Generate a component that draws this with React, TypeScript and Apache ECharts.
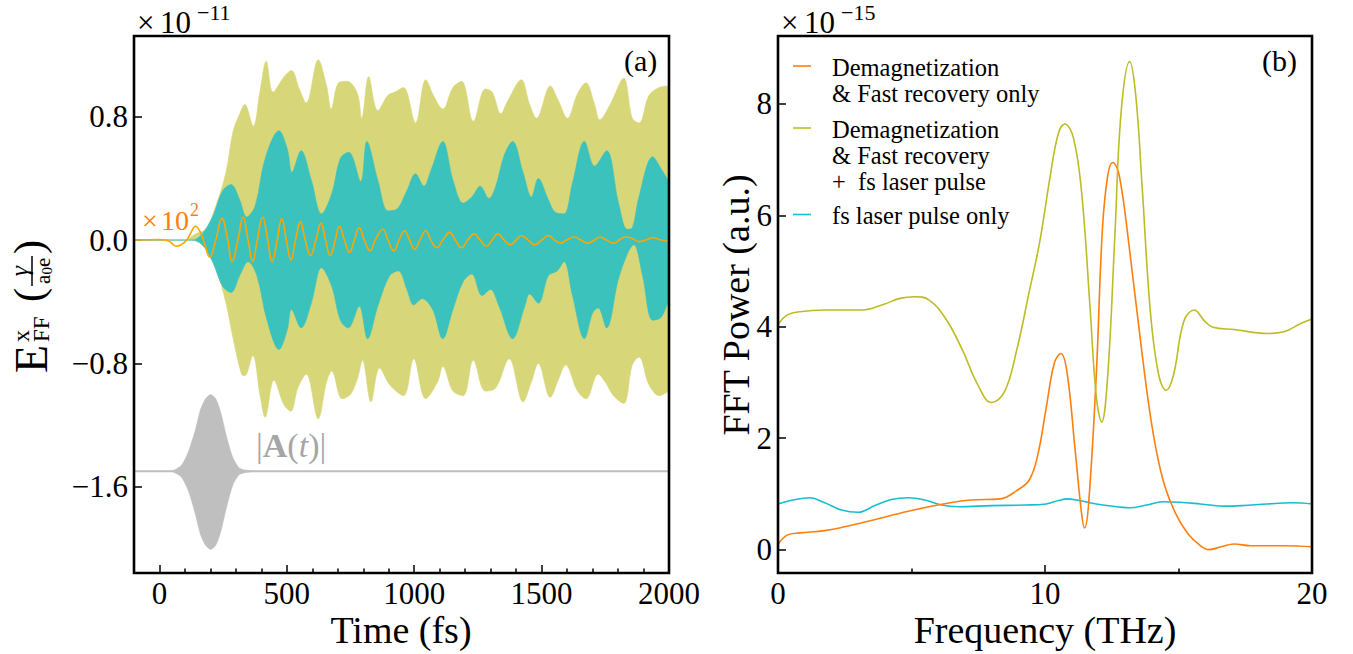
import React, { useEffect, useRef } from "react";
import * as echarts from "echarts";

const FONT = '"Liberation Serif", "Times New Roman", serif';

// ---------- Panel (a): time domain (values ×10^-11) ----------
const timeTicks = [0, 500, 1000, 1500, 2000];
const timeMinorTicks = [100, 200, 300, 400, 600, 700, 800, 900, 1100, 1200, 1300, 1400, 1600, 1700, 1800, 1900];
const fieldTicks = [-1.6, -0.8, 0, 0.8];

const oliveUpper: [number, number][] = [
  [-100, 0], [100, 0], [141, 0.04], [181, 0.07], [221, 0.22], [261, 0.44], [288, 0.7], [315, 0.82], [335, 0.88],
  [368, 0.74], [395, 0.97], [419, 1.16], [446, 0.96], [489, 1.06], [518, 1.1], [549, 0.98], [576, 0.89],
  [623, 1.17], [656, 1.0], [674, 0.85], [703, 1.02], [737, 1.03], [777, 0.95], [794, 0.79], [821, 1.06],
  [857, 0.84], [897, 0.94], [924, 0.96], [958, 0.99], [1005, 0.76], [1045, 1.04], [1078, 0.93], [1112, 0.85],
  [1152, 0.99], [1186, 1.03], [1232, 0.77], [1279, 0.98], [1306, 0.96], [1340, 0.82], [1366, 0.9], [1420, 1.04],
  [1453, 0.88], [1480, 0.79], [1534, 1.0], [1567, 0.9], [1601, 0.79], [1641, 0.95], [1674, 1.02], [1708, 0.88],
  [1728, 0.78], [1769, 0.88], [1822, 1.05], [1856, 0.79], [1882, 0.76], [1922, 0.94], [1962, 0.99], [2000, 1.0],
];
const oliveLower: [number, number][] = [
  [-100, 0], [120, 0], [181, -0.05], [221, -0.18], [261, -0.41], [288, -0.63], [322, -0.87], [335, -0.88],
  [366, -0.75], [395, -1.01], [415, -1.15], [449, -0.91], [489, -1.07], [516, -1.11], [543, -0.96], [576, -0.87],
  [623, -1.16], [656, -0.92], [676, -0.85], [717, -1.03], [750, -1.0], [777, -0.9], [797, -0.78], [830, -1.05],
  [864, -0.83], [904, -0.94], [958, -1.01], [998, -0.77], [1045, -1.03], [1092, -0.92], [1112, -0.82],
  [1152, -0.98], [1192, -1.01], [1232, -0.78], [1279, -0.98], [1320, -0.96], [1373, -0.77], [1427, -1.05],
  [1460, -0.92], [1487, -0.8], [1534, -1.02], [1567, -0.9], [1594, -0.81], [1641, -0.98], [1674, -1.03],
  [1722, -0.87], [1749, -0.92], [1782, -1.01], [1822, -1.06], [1856, -0.81], [1882, -0.76], [1922, -0.94],
  [1962, -1.01], [2000, -0.98],
];
const cyanUpper: [number, number][] = [
  [-100, 0], [127, 0], [167, 0.04], [208, 0.15], [248, 0.32], [281, 0.36], [315, 0.26], [342, 0.15], [375, 0.22],
  [415, 0.53], [469, 0.71], [502, 0.59], [520, 0.44], [556, 0.58], [596, 0.39], [636, 0.17], [676, 0.3],
  [710, 0.53], [743, 0.57], [790, 0.38], [814, 0.64], [857, 0.39], [897, 0.19], [931, 0.2], [971, 0.32],
  [1005, 0.43], [1038, 0.35], [1065, 0.45], [1112, 0.64], [1152, 0.39], [1192, 0.24], [1226, 0.28], [1259, 0.35],
  [1293, 0.27], [1320, 0.35], [1353, 0.55], [1386, 0.64], [1427, 0.44], [1460, 0.28], [1487, 0.4], [1527, 0.26],
  [1554, 0.18], [1588, 0.17], [1621, 0.37], [1668, 0.64], [1708, 0.48], [1755, 0.58], [1802, 0.24], [1836, 0.07],
  [1856, 0.08], [1882, 0.28], [1936, 0.54], [1970, 0.46], [2000, 0.38],
];
const cyanLower: [number, number][] = [
  [-100, 0], [127, 0], [167, -0.03], [208, -0.14], [248, -0.3], [281, -0.34], [315, -0.23], [348, -0.14],
  [382, -0.23], [422, -0.52], [469, -0.71], [502, -0.58], [518, -0.45], [556, -0.57], [596, -0.41], [636, -0.18],
  [676, -0.3], [710, -0.52], [741, -0.57], [784, -0.43], [817, -0.64], [857, -0.43], [904, -0.23], [938, -0.2],
  [971, -0.32], [998, -0.42], [1031, -0.38], [1072, -0.45], [1112, -0.64], [1152, -0.45], [1192, -0.27],
  [1226, -0.22], [1266, -0.36], [1299, -0.32], [1333, -0.43], [1386, -0.64], [1434, -0.43], [1453, -0.35],
  [1487, -0.41], [1527, -0.23], [1561, -0.2], [1588, -0.14], [1621, -0.36], [1668, -0.64], [1701, -0.47],
  [1722, -0.44], [1755, -0.57], [1802, -0.25], [1842, -0.07], [1862, -0.03], [1896, -0.23], [1936, -0.52],
  [1970, -0.5], [2000, -0.38],
];
const orangeScaled: [number, number][] = [
  [-100, 0], [0, 0.004], [20, 0], [40, -0.01], [65, -0.04], [85, -0.03], [107, 0], [127, 0.06], [141, 0.09],
  [161, 0.05], [178, -0.03], [197, -0.11], [221, 0], [245, 0.14], [268, 0], [285, -0.14], [308, 0], [328, 0.15],
  [348, 0], [366, -0.14], [384, 0], [405, 0.15], [425, 0], [442, -0.14], [462, 0], [480, 0.14], [498, 0],
  [516, -0.13], [534, 0], [553, 0.12], [572, 0], [593, -0.1], [614, 0], [634, 0.11], [652, 0], [670, -0.1],
  [690, 0], [706, 0.09], [726, 0], [746, -0.08], [765, 0], [784, 0.08], [804, 0], [827, -0.07], [847, 0],
  [877, 0.07], [897, 0], [920, -0.07], [940, 0], [962, 0.06], [982, 0], [1001, -0.06], [1022, 0], [1045, 0.06],
  [1065, 0], [1089, -0.05], [1112, 0], [1139, 0.05], [1161, 0], [1186, -0.05], [1210, 0], [1235, 0.04],
  [1259, 0], [1283, -0.04], [1306, 0], [1328, 0.04], [1353, 0], [1377, -0.03], [1400, 0], [1420, 0.03],
  [1447, 0], [1473, -0.03], [1500, 0], [1527, 0.03], [1550, 0], [1574, -0.02], [1598, 0], [1628, 0.02],
  [1654, 0], [1681, -0.02], [1708, 0], [1728, 0.02], [1755, 0], [1782, -0.02], [1809, 0.005], [1829, 0.02],
  [1856, 0.01], [1882, -0.01], [1916, 0.005], [1936, 0.015], [1970, 0], [2000, -0.01],
];
const pulseBaseline = -1.5;
const pulseTime = [-100, 40, 60, 87, 114, 141, 161, 181, 201, 221, 241, 261, 288, 315, 355, 400, 2000];
const pulseUpper = [0, 0, 0.01, 0.04, 0.13, 0.27, 0.4, 0.47, 0.498, 0.47, 0.38, 0.24, 0.09, 0.02, 0.004, 0, 0];
const pulseLower = [0, 0, -0.01, -0.04, -0.13, -0.28, -0.41, -0.48, -0.507, -0.48, -0.39, -0.25, -0.09, -0.02, -0.004, 0, 0];

// ---------- Panel (b): FFT power (values ×10^-15) ----------
const freqTicks = [0, 10, 20];
const powerTicks = [0, 2, 4, 6, 8];
const oliveFFT: [number, number][] = [
  [0, 4.04], [0.34, 4.21], [0.81, 4.27], [1.75, 4.3], [3.16, 4.3], [3.94, 4.4], [4.57, 4.51], [5.11, 4.54],
  [5.66, 4.48], [6.29, 4.14], [6.91, 3.58], [7.46, 2.98], [8.0, 2.64], [8.48, 2.83], [8.94, 3.58], [9.41, 4.63],
  [9.8, 5.52], [10.2, 6.72], [10.5, 7.47], [10.74, 7.64], [11.06, 7.4], [11.37, 6.42], [11.68, 4.4], [11.92, 2.75],
  [12.12, 2.29], [12.35, 3.13], [12.62, 5.67], [12.85, 7.85], [13.17, 8.76], [13.4, 8.15], [13.64, 6.5],
  [13.95, 4.25], [14.26, 3.13], [14.54, 2.86], [14.81, 3.13], [15.2, 4.1], [15.59, 4.3], [15.98, 4.1],
  [16.29, 3.99], [17.08, 3.95], [18.33, 3.88], [18.95, 3.91], [19.58, 4.06], [20, 4.14],
];
const orangeFFT: [number, number][] = [
  [0, 0.09], [0.34, 0.26], [0.81, 0.3], [1.75, 0.34], [3.3, 0.5], [4.88, 0.69], [6.44, 0.84], [7.22, 0.89],
  [8.32, 0.91], [8.94, 1.06], [9.41, 1.25], [9.73, 1.7], [10.04, 2.53], [10.35, 3.35], [10.59, 3.52],
  [10.82, 3.2], [11.13, 1.78], [11.37, 0.65], [11.48, 0.39], [11.63, 0.8], [11.92, 3.13], [12.15, 5.75],
  [12.35, 6.72], [12.54, 6.95], [12.78, 6.72], [13.17, 5.37], [13.64, 3.5], [14.03, 2.15], [14.42, 1.25],
  [14.89, 0.65], [15.36, 0.28], [15.82, 0.07], [16.14, 0.0], [16.6, 0.05], [17.08, 0.1], [17.7, 0.07],
  [18.95, 0.07], [20, 0.05],
];
const cyanFFT: [number, number][] = [
  [0, 0.82], [0.66, 0.9], [1.2, 0.93], [1.75, 0.84], [2.38, 0.71], [3.0, 0.67], [3.63, 0.79], [4.25, 0.9],
  [4.88, 0.93], [5.5, 0.89], [6.13, 0.8], [6.76, 0.77], [8.0, 0.79], [9.26, 0.8], [10.04, 0.82], [10.5, 0.88],
  [10.82, 0.91], [11.3, 0.88], [11.92, 0.82], [12.7, 0.77], [13.17, 0.75], [13.8, 0.8], [14.42, 0.86],
  [15.04, 0.85], [15.82, 0.82], [16.76, 0.78], [17.39, 0.79], [18.33, 0.82], [19.27, 0.84], [20, 0.82],
];
const legendNames = [
  "Demagnetization\n& Fast recovery only",
  "Demagnetization\n& Fast recovery\n+  fs laser pulse",
  "fs laser pulse only",
];

const C_OLIVE = "#bcbd22";
const C_ORANGE = "#ff7f0e";
const C_CYAN = "#17becf";
const F_OLIVE = "#d7d77a";
const F_CYAN = "#3cc2bd";
const F_GRAY = "#bfbfbf";

const G1 = { left: 134, top: 36, width: 535, height: 537 };
const G2 = { left: 778, top: 36, width: 534, height: 537 };

function fmtSigned(v: number, d: number) {
  const s = Math.abs(v).toFixed(d);
  return v < 0 ? "\u2212" + s : s;
}

function buildOption(): any {
  const tickStyle = { color: "#000", width: 1.5 };
  const labelStyle = { color: "#000", fontFamily: FONT, fontSize: 31 };
  const hiddenLine = { show: false, onZero: false };

  const band = (data: [number, number][], color: string, z: number) => ({
    type: "line",
    xAxisIndex: 0,
    yAxisIndex: 0,
    data,
    symbol: "none",
    smooth: 0.35,
    silent: true,
    z,
    lineStyle: { width: 0.6, color },
    areaStyle: { color, opacity: 1 },
  });

  const fftLine = (data: [number, number][], color: string) => ({
    type: "line",
    xAxisIndex: 2,
    yAxisIndex: 1,
    data,
    symbol: "none",
    smooth: 0.4,
    silent: true,
    z: 5,
    lineStyle: { width: 1.6, color },
  });

  const series: any[] = [
    band(oliveUpper, F_OLIVE, 2),
    band(oliveLower, F_OLIVE, 2),
    band(cyanUpper, F_CYAN, 3),
    band(cyanLower, F_CYAN, 3),
    {
      type: "line",
      xAxisIndex: 0,
      yAxisIndex: 0,
      data: orangeScaled,
      symbol: "none",
      smooth: 0.45,
      silent: true,
      z: 4,
      lineStyle: { width: 1.6, color: "#ffa500" },
    },
    {
      type: "custom",
      xAxisIndex: 0,
      yAxisIndex: 0,
      silent: true,
      z: 3,
      data: [[pulseTime[0], pulseBaseline]],
      clip: true,
      renderItem: (_params: any, api: any) => {
        const pts: number[][] = [];
        for (let i = 0; i < pulseTime.length; i++) {
          pts.push(api.coord([pulseTime[i], pulseBaseline + pulseUpper[i]]));
        }
        for (let i = pulseTime.length - 1; i >= 0; i--) {
          pts.push(api.coord([pulseTime[i], pulseBaseline + pulseLower[i]]));
        }
        return {
          type: "polygon",
          shape: { points: pts, smooth: 0.25 },
          style: { fill: F_GRAY, stroke: F_GRAY, lineWidth: 0.5 },
        };
      },
    },
    {
      type: "line", xAxisIndex: 0, yAxisIndex: 0,
      data: [[-100, pulseBaseline], [2000, pulseBaseline]], symbol: "none", silent: true, z: 3,
      lineStyle: { width: 2, color: F_GRAY },
    },
    fftLine(cyanFFT, C_CYAN),
    fftLine(orangeFFT, C_ORANGE),
    fftLine(oliveFFT, C_OLIVE),
  ];

  const txt = (text: string, x: number, y: number, size: number, extra: any = {}) => ({
    type: "text",
    x,
    y,
    z: 100,
    silent: true,
    style: {
      text,
      fill: "#000",
      font: `${size}px ${FONT}`,
      verticalAlign: "middle",
      align: "left",
      ...extra,
    },
  });

  const legendColors = [C_ORANGE, C_OLIVE, C_CYAN];
  const legendFirstLineY = [67, 129, 215.5];
  const LH = 26;
  const legendRows: any[] = [];
  legendNames.forEach((name, i) => {
    const y0 = legendFirstLineY[i];
    legendRows.push({
      type: "line",
      z: 100,
      silent: true,
      shape: { x1: 793, y1: y0 - 1, x2: 811, y2: y0 - 1 },
      style: { stroke: legendColors[i], lineWidth: 1.6 },
    });
    legendRows.push(txt(name, 832, y0 - LH / 2, 24.5, { verticalAlign: "top", lineHeight: LH }));
  });

  const yLabelLeft = {
    type: "group",
    x: 31,
    y: 305,
    rotation: Math.PI / 2,
    silent: true,
    z: 100,
    children: [
      { type: "text", x: -68, y: 0, style: { text: "E", fill: "#000", font: `46px ${FONT}`, verticalAlign: "middle" } },
      { type: "text", x: -37, y: -10, style: { text: "x", fill: "#000", font: `24px ${FONT}`, verticalAlign: "middle" } },
      { type: "text", x: -37, y: 10, style: { text: "FF", fill: "#000", font: `23px ${FONT}`, verticalAlign: "middle" } },
      { type: "text", x: 3, y: -2, style: { text: "(", fill: "#000", font: `42px ${FONT}`, verticalAlign: "middle" } },
      { type: "text", x: 34, y: -12, style: { text: "\u03b3", fill: "#000", font: `italic 26px ${FONT}`, verticalAlign: "middle", align: "center" } },
      { type: "line", shape: { x1: 19, y1: 1, x2: 49, y2: 1 }, style: { stroke: "#000", lineWidth: 1.5 } },
      { type: "text", x: 21, y: 12, style: { text: "a", fill: "#000", font: `21px ${FONT}`, verticalAlign: "middle" } },
      { type: "text", x: 30.5, y: 16, style: { text: "0", fill: "#000", font: `15px ${FONT}`, verticalAlign: "middle" } },
      { type: "text", x: 38, y: 12, style: { text: "e", fill: "#000", font: `21px ${FONT}`, verticalAlign: "middle" } },
      { type: "text", x: 51, y: -2, style: { text: ")", fill: "#000", font: `42px ${FONT}`, verticalAlign: "middle" } },
    ],
  };

  const graphic: any[] = [
    { type: "rect", z: 90, silent: true, shape: { x: G1.left, y: G1.top, width: G1.width, height: G1.height }, style: { fill: "none", stroke: "#000", lineWidth: 2.6 } },
    { type: "rect", z: 90, silent: true, shape: { x: G2.left, y: G2.top, width: G2.width, height: G2.height }, style: { fill: "none", stroke: "#000", lineWidth: 2.6 } },
    txt("\u00d7", 137, 22, 31),
    txt("10", 160, 22, 31),
    txt("\u221211", 197, 12, 22),
    txt("\u00d7", 781, 22, 31),
    txt("10", 804, 22, 31),
    txt("\u221215", 841, 12, 22),
    txt("(a)", 624, 60, 30),
    txt("(b)", 1262, 60, 30),
    txt("\u00d7", 142, 220, 28, { fill: C_ORANGE }),
    txt("10", 161, 220, 28, { fill: C_ORANGE }),
    txt("2", 190, 210, 18, { fill: C_ORANGE }),
    {
      type: "text",
      x: 256,
      y: 445,
      z: 100,
      silent: true,
      style: {
        text: "{n||}{b|A}{n|(}{i|t}{n|)|}",
        verticalAlign: "middle",
        rich: {
          n: { fill: "#a6a6a6", fontFamily: FONT, fontSize: 34 },
          b: { fill: "#a6a6a6", fontFamily: FONT, fontSize: 34, fontWeight: "bold" },
          i: { fill: "#a6a6a6", fontFamily: FONT, fontSize: 34, fontStyle: "italic" },
        },
      },
    },
    txt("Time (fs)", 401, 630, 38, { align: "center" }),
    txt("Frequency (THz)", 1045, 630, 38, { align: "center" }),
    {
      type: "text",
      x: 736,
      y: 305,
      rotation: Math.PI / 2,
      z: 100,
      silent: true,
      style: { text: "FFT Power (a.u.)", fill: "#000", font: `38px ${FONT}`, align: "center", verticalAlign: "middle" },
    },
    yLabelLeft,
    ...legendRows,
  ];

  return {
    animation: false,
    backgroundColor: "#fff",
    textStyle: { fontFamily: FONT },
    grid: [
      { ...G1, show: false, containLabel: false },
      { ...G2, show: false, containLabel: false },
    ],
    xAxis: [
      {
        type: "value", gridIndex: 0, min: -100, max: 2000, position: "bottom",
        axisLine: hiddenLine, splitLine: { show: false },
        axisTick: { show: true, inside: true, length: 8, lineStyle: tickStyle, customValues: timeTicks },
        axisLabel: { ...labelStyle, margin: 5, customValues: timeTicks, formatter: (v: number) => String(v) },
      },
      {
        type: "value", gridIndex: 0, min: -100, max: 2000, position: "bottom",
        axisLine: hiddenLine, splitLine: { show: false },
        axisTick: { show: true, inside: true, length: 4.5, lineStyle: tickStyle, customValues: timeMinorTicks },
        axisLabel: { show: false },
      },
      {
        type: "value", gridIndex: 1, min: 0, max: 20, interval: 10, position: "bottom",
        axisLine: hiddenLine, splitLine: { show: false },
        axisTick: { show: true, inside: true, length: 8, lineStyle: tickStyle },
        minorTick: { show: true, splitNumber: 2, length: 4.5, lineStyle: tickStyle },
        axisLabel: { ...labelStyle, margin: 5, customValues: freqTicks, formatter: (v: number) => String(v) },
      },
    ],
    yAxis: [
      {
        type: "value", gridIndex: 0, min: -2.16, max: 1.324, position: "left",
        axisLine: hiddenLine, splitLine: { show: false },
        axisTick: { show: true, inside: true, length: 8, lineStyle: tickStyle, customValues: fieldTicks },
        axisLabel: { ...labelStyle, margin: 6, customValues: fieldTicks, formatter: (v: number) => fmtSigned(v, 1) },
      },
      {
        type: "value", gridIndex: 1, min: -0.42, max: 9.22, position: "left",
        axisLine: hiddenLine, splitLine: { show: false },
        axisTick: { show: true, inside: true, length: 8, lineStyle: tickStyle, customValues: powerTicks },
        axisLabel: { ...labelStyle, margin: 6, customValues: powerTicks, formatter: (v: number) => String(v) },
      },
    ],
    series,
    graphic,
  };
}

export default function App() {
  const ref = useRef<HTMLDivElement>(null);
  useEffect(() => {
    document.body.style.margin = "0";
    const chart = echarts.init(ref.current!, null, { renderer: "svg" });
    chart.setOption(buildOption());
    return () => chart.dispose();
  }, []);
  return (
    <div
      ref={ref}
      style={{ position: "fixed", left: 0, top: 0, width: 1353, height: 654, background: "#fff" }}
    />
  );
}
